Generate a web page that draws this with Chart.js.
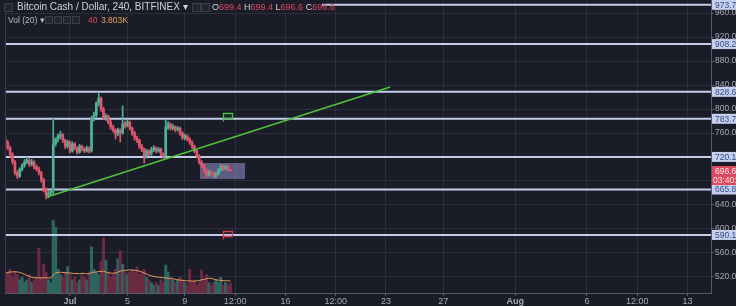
<!DOCTYPE html>
<html><head><meta charset="utf-8">
<script src="https://cdn.jsdelivr.net/npm/chart.js@4.4.0/dist/chart.umd.min.js"></script>
<style>
html,body{margin:0;padding:0;background:#1a1d28;}
#wrap{position:relative;width:736px;height:306px;overflow:hidden;background:#1a1d28;}
canvas{display:block;}
.hdr{position:absolute;font-family:"Liberation Sans",Arial,sans-serif;color:#cfd2da;white-space:nowrap;line-height:1;}
.red{color:#e0475d;}
.org{color:#e8a45a;}
.ic{position:absolute;border:1px solid #3a3e4a;background:#23262f;}
#hbg{position:absolute;left:0;top:0;width:322px;height:13px;background:#1a1d28;}
</style></head><body>
<div id="wrap">
<canvas id="c" width="736" height="306"></canvas>
<div id="hbg"></div>
<div class="ic" style="left:4px;top:3px;width:7px;height:7px;"></div>
<div class="hdr" style="left:17px;top:2px;font-size:10px;">Bitcoin Cash / Dollar, 240, BITFINEX ▾</div>
<div class="ic" style="left:192px;top:3px;width:7px;height:7px;"></div>
<div class="ic" style="left:201px;top:3px;width:7px;height:7px;"></div>
<div class="hdr" style="left:212px;top:3px;font-size:9px;">O<span class="red">699.4</span> H<span class="red">699.4</span> L<span class="red">696.6</span> C<span class="red">696.6</span></div>
<div class="hdr" style="left:8px;top:16px;font-size:8.5px;color:#b8bbc4;">Vol (20) ▾</div>
<div class="ic" style="left:45px;top:16px;width:6px;height:6px;"></div>
<div class="ic" style="left:54px;top:16px;width:6px;height:6px;"></div>
<div class="ic" style="left:63px;top:16px;width:6px;height:6px;"></div>
<div class="ic" style="left:72px;top:16px;width:6px;height:6px;"></div>
<div class="hdr red" style="left:88px;top:16px;font-size:8.5px;">40</div>
<div class="hdr org" style="left:101px;top:16px;font-size:8.5px;">3.803K</div>
</div>
<script>
// ---- data (4h candles, BCH/USD, Bitfinex) ----
const opens  = [750,745,735,724,712,694,688,700,706,712,715,708,712,704,700,694,682,666,656,660,
                663,742,750,755,757,748,738,745,730,742,735,728,738,733,730,735,730,785,790,810,
                818,800,785,788,778,770,765,758,765,760,775,772,778,768,760,752,748,738,733,722,
                730,725,732,735,730,733,725,722,770,775,768,770,766,768,760,752,755,750,745,738,
                730,722,712,706,698,690,695,693,688,692,698,705,700,704,699.4];
const highs  = [753,747,738,727,714,697,702,709,716,720,717,716,714,707,703,696,684,668,663,665,
                785,752,758,763,759,750,748,747,745,744,737,741,740,736,738,737,788,795,812,828,
                820,803,792,790,781,773,767,768,767,805,780,782,780,770,763,755,750,741,735,733,
                732,736,739,737,736,735,727,782,779,777,774,772,771,770,762,758,757,752,747,740,
                732,724,714,708,700,698,697,695,695,701,708,707,707,706,699.4];
const lows   = [742,732,720,708,690,684,686,697,703,709,704,705,700,697,690,678,662,650,652,657,
                656,738,745,750,744,734,735,727,728,732,725,726,730,727,728,727,728,780,786,805,
                796,782,781,775,766,762,750,755,745,758,768,770,765,756,748,744,734,729,710,718,
                722,723,729,727,728,722,718,720,766,765,765,762,763,756,749,749,747,741,734,727,
                718,708,702,694,686,688,690,685,686,690,696,698,698,697,696.6];
const closes = [745,735,724,712,694,688,700,706,712,715,708,712,704,700,694,682,666,656,660,663,
                742,750,755,757,748,738,745,730,742,735,728,738,733,730,735,730,785,790,810,818,
                800,785,788,778,770,765,758,765,760,775,772,778,768,760,752,748,738,733,722,730,
                725,732,735,730,733,725,722,770,775,768,770,766,768,760,752,755,750,745,738,730,
                722,712,706,698,690,695,693,688,692,698,705,700,704,699.4,696.6];
const volumes = [7,8,9,6,8,7,5,6,4,5,7,4,5,6,17,6,11,8,5,4,
                 27.7,25,9,7,6,8,10,7,5,6,4,5,7,6,5,8,17.5,9,8,7,
                 12,21,12.5,8,6,7,9,13,16,11,8,7,8,9,8,10,7,8,9,6,
                 5,4,3,4,3,5,4,10.6,8,6,5,4,5,6,5,4,3,9,4,5,
                 3,4,8.7,5,7,4,3,4,5,4,6,3,4,3,3.8];
const volumeMA = [7.6,7.8,8.0,8.0,8.1,8.0, 7.8,7.5,7.1,6.7,6.3,6.0, 5.8,5.7,5.8,5.7,5.8,5.8,5.7,5.7,
                  6.8,7.6,7.8,7.9,7.8,7.7, 7.7,7.6,7.5,7.4,7.4,7.3,7.5,7.4,7.3,7.3,
                  7.8,7.9,8.0,8.2,8.1,8.3, 7.9,7.7,7.6,7.5,7.6,7.9, 8.3,8.5,8.6,8.7,8.8,8.7,
                  8.6,8.5,8.3,8.0,7.6,7.2, 6.8,6.5,6.3,6.1,6.0,5.9, 5.8,5.7,5.6,5.5,5.4,5.2,
                  5.0,4.9,4.8,4.7,4.6,4.6, 4.5,4.5,4.6,4.7,5.0,5.2, 5.4,5.6,5.5,5.3,5.0,4.9,
                  4.8,4.7,4.7,4.6,4.6];
// time: days since Jul 1 00:00; first candle Jun 26 12:00, 4h step
const firstCandleDay = -4.5;
const candleStepDay = 1/6;
const horizontalLevels = [973.7, 908.2, 828.6, 783.7, 720.1, 665.8, 590.1];
const trendX = [-1.6, 22.3];
const trendY = [653.3, 836.7];
const boxX = [9.05, 12.19];
const boxY = [683.3, 710];
const flagGreen = {x: 11.0, y: 787.5};
const flagRed = {x: 11.0, y: 590};
const lastPrice = 696.6;
const countdown = '03:40:16';
const priceTicks = [960,920,880,840,800,760,720,680,640,600,560,520];
const timeTicks = [0,4,8,11.5,15,18.5,22,26,31,36,39.5,43];
const timeLabels = ['Jul','5','9','12:00','16','12:00','23','27','Aug','6','12:00','13'];
const xRange = [-4.526, 44.64];
const yRange = [493.33, 981.67];
const volRange = [0, 111.3];

const times = opens.map((_, i) => firstCandleDay + i * candleStepDay);
const isUp = closes.map((c, i) => c >= opens[i]);
const RED = '#e0566c', GREEN = '#4fb296';
const VRED = '#6a2a42', VGREEN = '#2b6660';
const AXIS_TXT = '#a6a9b2';
const GRID = '#2b2f3b';

const datasets = [];
datasets.push({
  type: 'line', label: 'trend', data: trendX.map((x, i) => ({x, y: trendY[i]})),
  borderColor: '#4ec23c', borderWidth: 1.6, pointRadius: 0, yAxisID: 'y', order: 0
});
datasets.push({
  type: 'bar', label: 'body', data: times.map((t, i) => ({x: t, y: [opens[i], closes[i]]})),
  backgroundColor: isUp.map(u => u ? GREEN : RED), barThickness: 2, grouped: false,
  minBarLength: 1, yAxisID: 'y', order: 1
});
datasets.push({
  type: 'bar', label: 'wick', data: times.map((t, i) => ({x: t, y: [lows[i], highs[i]]})),
  backgroundColor: isUp.map(u => u ? GREEN : RED), barThickness: 1, grouped: false,
  yAxisID: 'y', order: 2
});
horizontalLevels.forEach((v, k) => {
  datasets.push({
    type: 'line', label: 'h' + k, data: [{x: xRange[0], y: v}, {x: xRange[1], y: v}],
    borderColor: '#c3cdea', borderWidth: 2, pointRadius: 0, yAxisID: 'y', order: 5
  });
});
datasets.push({
  type: 'line', label: 'volMA', data: times.map((t, i) => ({x: t, y: volumeMA[i]})),
  borderColor: '#e39a5a', borderWidth: 1, pointRadius: 0, yAxisID: 'yv', order: 9
});
datasets.push({
  type: 'bar', label: 'vol', data: times.map((t, i) => ({x: t, y: volumes[i]})),
  backgroundColor: isUp.map(u => u ? VGREEN : VRED), barThickness: 2.4, grouped: false,
  yAxisID: 'yv', order: 10
});

const overlay = {
  id: 'overlay',
  beforeDatasetsDraw(chart) {
    const {ctx, scales: {x, y}} = chart;
    ctx.save();
    const x0 = x.getPixelForValue(boxX[0]), x1 = x.getPixelForValue(boxX[1]);
    const y0 = y.getPixelForValue(boxY[1]), y1 = y.getPixelForValue(boxY[0]);
    ctx.fillStyle = 'rgba(150,145,205,0.55)';
    ctx.fillRect(x0, y0, x1 - x0, y1 - y0);
    ctx.restore();
  },
  afterDatasetsDraw(chart) {
    const {ctx, scales: {x, y}} = chart;
    const drawFlag = (f, col) => {
      const px = Math.round(x.getPixelForValue(f.x)) + 0.5, py = Math.round(y.getPixelForValue(f.y)) + 0.5;
      ctx.save();
      ctx.strokeStyle = col; ctx.lineWidth = 1.3;
      ctx.beginPath();
      ctx.moveTo(px - 5, py + 4); ctx.lineTo(px - 5, py - 4);
      ctx.rect(px - 5, py - 4, 9, 5);
      ctx.stroke();
      ctx.restore();
    };
    drawFlag(flagGreen, '#45c43a');
    drawFlag(flagRed, '#d8394c');
  },
  afterDraw(chart) {
    const {ctx, chartArea, scales: {y}} = chart;
    ctx.save();
    ctx.strokeStyle = '#3a3e4a'; ctx.lineWidth = 1;
    ctx.beginPath(); ctx.moveTo(chartArea.left + 0.5, 0); ctx.lineTo(chartArea.left + 0.5, chartArea.bottom); ctx.stroke();
    ctx.font = '8.5px "Liberation Sans", Arial, sans-serif';
    ctx.textBaseline = 'middle';
    const lx = chartArea.right + 1;
    horizontalLevels.forEach(v => {
      const py = y.getPixelForValue(v);
      ctx.fillStyle = '#c6d0ec';
      ctx.fillRect(lx, py - 5, 736 - lx, 10);
      ctx.fillStyle = '#2f4f8f';
      ctx.fillText(v.toFixed(1), lx + 3, py + 0.5);
    });
    const py = y.getPixelForValue(lastPrice);
    ctx.fillStyle = '#dd4a5d';
    ctx.fillRect(lx, py - 5, 736 - lx, 19);
    ctx.fillStyle = '#fde6ea';
    ctx.fillText(lastPrice.toFixed(1), lx + 3, py + 0.5);
    ctx.fillText(countdown, lx + 1, py + 9.5);
    ctx.restore();
  }
};

new Chart(document.getElementById('c'), {
  type: 'bar',
  data: {datasets},
  plugins: [overlay],
  options: {
    responsive: false, animation: false,
    layout: {padding: {left: 5, top: 0, right: 0, bottom: 0}},
    plugins: {legend: {display: false}, tooltip: {enabled: false}},
    scales: {
      x: {
        type: 'linear', min: xRange[0], max: xRange[1], offset: false,
        grid: {color: GRID, offset: false, drawTicks: true, tickLength: 3, tickColor: '#555a66'},
        border: {display: true, color: '#555a66'},
        afterBuildTicks: s => { s.ticks = timeTicks.map(v => ({value: v})); },
        afterFit: s => { s.height = 13; s.paddingLeft = 0; s.paddingRight = 0; },
        ticks: {
          color: AXIS_TXT, padding: 0, maxRotation: 0, autoSkip: false,
          font: ctx => ({size: 9, family: '"Liberation Sans", Arial, sans-serif',
            weight: (ctx.tick && (ctx.tick.value === 0 || ctx.tick.value === 31)) ? 'bold' : 'normal'}),
          callback: (v) => { const k = timeTicks.indexOf(v); return k >= 0 ? timeLabels[k] : ''; }
        }
      },
      y: {
        type: 'linear', position: 'right', min: yRange[0], max: yRange[1],
        grid: {color: GRID, drawTicks: true, tickLength: 3, tickColor: '#555a66'},
        border: {display: true, color: '#555a66'},
        afterBuildTicks: s => { s.ticks = priceTicks.map(v => ({value: v})); },
        afterFit: s => { s.width = 25; s.paddingTop = 0; s.paddingBottom = 0; },
        ticks: {
          color: AXIS_TXT, padding: 1, font: {size: 8.5, family: '"Liberation Sans", Arial, sans-serif'},
          callback: v => Number(v).toFixed(1)
        }
      },
      yv: {
        type: 'linear', display: false, min: volRange[0], max: volRange[1]
      }
    }
  }
});
</script>
</body></html>
